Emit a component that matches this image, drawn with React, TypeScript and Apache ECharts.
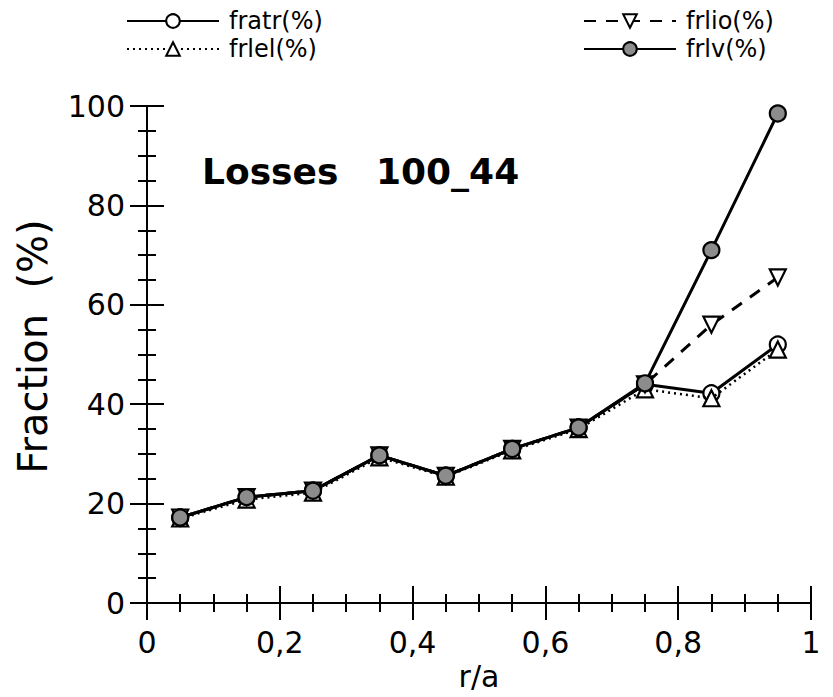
import React, { useEffect, useRef } from "react";
import * as echarts from "echarts";

// r/a positions of the sampled radii
const radius = [0.05, 0.15, 0.25, 0.35, 0.45, 0.55, 0.65, 0.75, 0.85, 0.95];

// loss fractions (%) per channel
const fratr = [17.2, 21.3, 22.6, 29.7, 25.6, 31.0, 35.3, 44.0, 42.2, 52.0];
const frlel = [17.0, 20.8, 22.2, 29.3, 25.4, 30.7, 35.0, 43.0, 41.2, 51.0];
const frlio = [17.2, 21.3, 22.6, 29.7, 25.6, 31.0, 35.3, 44.0, 56.0, 65.5];
const frlv = [17.2, 21.3, 22.6, 29.7, 25.6, 31.0, 35.3, 44.2, 71.0, 98.5];

const seriesNames = ["fratr(%)", "frlel(%)", "frlio(%)", "frlv(%)"];
const xTickLabels = ["0", "0,2", "0,4", "0,6", "0,8", "1"];
const yTickLabels = ["0", "20", "40", "60", "80", "100"];

const FONT = "DejaVu Sans";

const pairs = (ys: number[]) => ys.map((y, i) => [radius[i], y]);

export default function App() {
  const ref = useRef<HTMLDivElement>(null);

  useEffect(() => {
    if (!ref.current) return;
    const chart = echarts.init(ref.current, undefined, { renderer: "svg" });

    const axisLine = { show: true, lineStyle: { color: "#000", width: 2 } };
    const majorTick = { show: true, inside: false, length: 17, lineStyle: { color: "#000", width: 2 } };
    const minorTick = { show: true, splitNumber: 4, length: 9, lineStyle: { color: "#000", width: 2 } };

    const xBase = {
      type: "value" as const,
      min: 0,
      max: 1,
      interval: 0.2,
      axisLine,
      axisTick: majorTick,
      minorTick,
      splitLine: { show: false },
    };
    const yBase = {
      type: "value" as const,
      min: 0,
      max: 100,
      interval: 20,
      axisLine,
      axisTick: majorTick,
      minorTick,
      splitLine: { show: false },
    };

    const lineSeries = (
      name: string,
      data: number[],
      lineType: any,
      width: number,
      symbol: string,
      fill: string,
      z: number,
      rotate = 0
    ) => ({
      name,
      type: "line" as const,
      data: pairs(data),
      z,
      symbol,
      symbolSize: 16,
      symbolRotate: rotate,
      showAllSymbol: true,
      lineStyle: { color: "#000", width, type: lineType },
      itemStyle: { color: fill, borderColor: "#000", borderWidth: 2.2 },
      emphasis: { disabled: true },
    });

    const legendText = {
      color: "#000",
      fontFamily: FONT,
      fontSize: 24,
      lineHeight: 28,
      padding: [0, 0, 0, 5],
    };

    const legendBase = {
      orient: "vertical" as const,
      top: 7,
      padding: 0,
      itemGap: 0,
      itemWidth: 92,
      itemHeight: 17,
      textStyle: legendText,
      selectedMode: false,
    };

    chart.setOption({
      animation: false,
      backgroundColor: "#fff",
      grid: { left: 147, right: 22, top: 106, bottom: 94, containLabel: false },
      legend: [
        { ...legendBase, data: [seriesNames[0], seriesNames[1]], left: 126 },
        { ...legendBase, data: [seriesNames[2], seriesNames[3]], left: 583 },
      ],
      xAxis: [
        {
          ...xBase,
          position: "bottom",
          name: "r/a",
          nameLocation: "middle",
          nameGap: 58,
          nameTextStyle: { color: "#000", fontFamily: FONT, fontSize: 30 },
          axisLabel: {
            color: "#000",
            fontFamily: FONT,
            fontSize: 30,
            margin: 24,
            formatter: (v: number) => xTickLabels[Math.round(v / 0.2)],
          },
        },
        { ...xBase, position: "top", axisLabel: { show: false } },
      ],
      yAxis: [
        {
          ...yBase,
          position: "left",
          name: "Fraction  (%)",
          nameLocation: "middle",
          nameGap: 94,
          nameTextStyle: {
            color: "#000",
            fontFamily: FONT,
            fontSize: 40,
            padding: [0, 0, 0, 16],
          },
          axisLabel: {
            color: "#000",
            fontFamily: FONT,
            fontSize: 30,
            margin: 22,
            formatter: (v: number) => yTickLabels[Math.round(v / 20)],
          },
        },
        { ...yBase, position: "right", axisLabel: { show: false } },
      ],
      graphic: [
        {
          type: "text",
          left: 202,
          top: 153,
          style: {
            text: "Losses   100_44",
            fontFamily: FONT,
            fontWeight: "bold",
            fontSize: 36,
            fill: "#000",
          },
        },
      ],
      series: [
        lineSeries(seriesNames[0], fratr, "solid", 3, "circle", "#fff", 2),
        lineSeries(seriesNames[1], frlel, [2, 4], 2.5, "triangle", "#fff", 3),
        lineSeries(seriesNames[2], frlio, [12, 10], 3, "triangle", "#fff", 4, 180),
        lineSeries(seriesNames[3], frlv, "solid", 3, "circle", "#8c8c8c", 5),
      ],
    });

    return () => chart.dispose();
  }, []);

  return (
    <div
      ref={ref}
      style={{ position: "fixed", left: 0, top: 0, width: 833, height: 697, background: "#fff" }}
    />
  );
}
